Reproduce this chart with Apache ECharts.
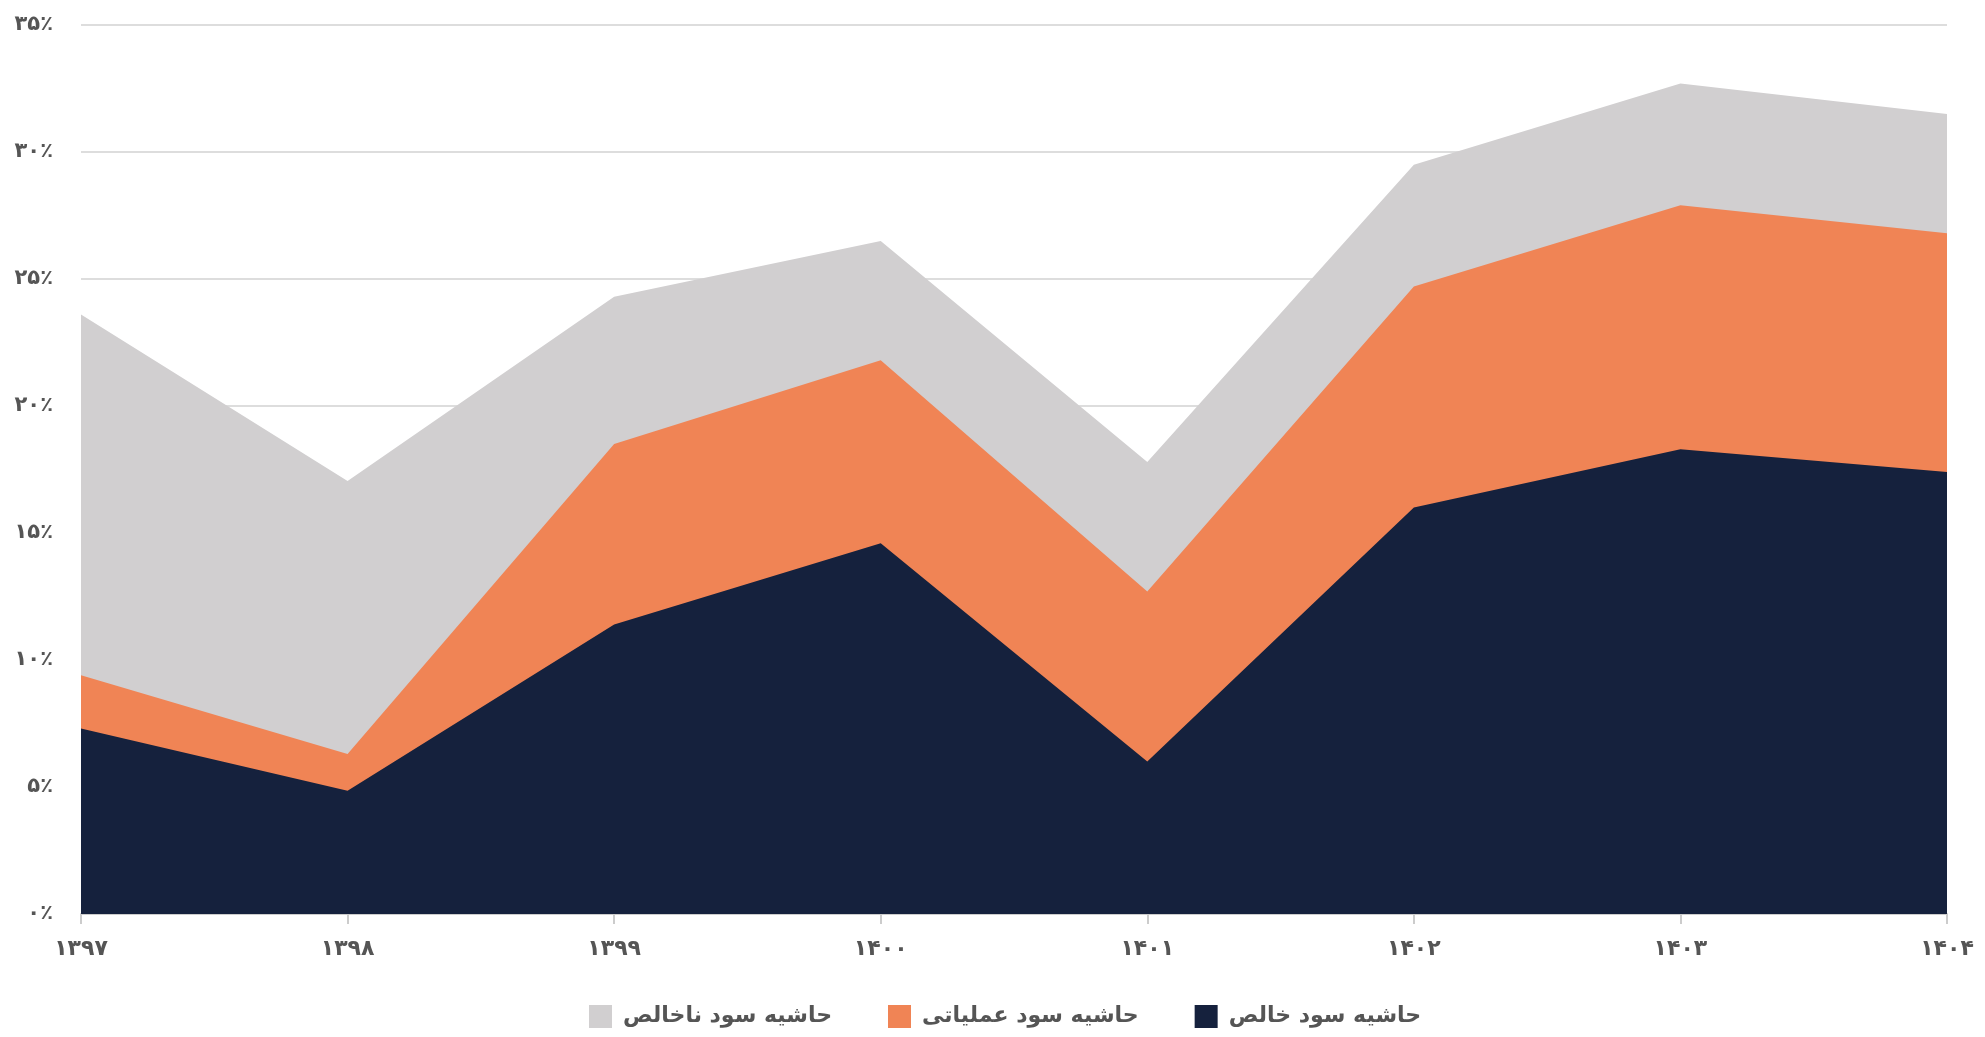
<!DOCTYPE html>
<html>
<head>
<meta charset="utf-8">
<style>
  html, body { margin: 0; padding: 0; background: #fff; }
  #chart { width: 1985px; height: 1037px; }
</style>
<script src="https://cdn.jsdelivr.net/npm/echarts@6/dist/echarts.min.js"></script>
</head>
<body>
<div id="chart"></div>
<script>
var years = ['۱۳۹۷', '۱۳۹۸', '۱۳۹۹', '۱۴۰۰', '۱۴۰۱', '۱۴۰۲', '۱۴۰۳', '۱۴۰۴'];
var grossMargin = [23.6, 17.05, 24.3, 26.5, 17.8, 29.5, 32.7, 31.5];
var operatingMargin = [9.4, 6.3, 18.5, 21.8, 12.7, 24.7, 27.9, 26.8];
var netMargin = [7.3, 4.85, 11.4, 14.6, 6.0, 16.0, 18.3, 17.4];
var seriesNames = ['حاشیه سود ناخالص', 'حاشیه سود عملیاتی', 'حاشیه سود خالص'];
var persianDigits = ['۰', '۱', '۲', '۳', '۴', '۵', '۶', '۷', '۸', '۹'];

function toPersian(n) {
  return String(n).replace(/[0-9]/g, function(d) { return persianDigits[+d]; });
}

var font = "'DejaVu Sans', sans-serif";
var navy = '#15213d';
var orange = '#f08455';
var gray = '#d1cfd0';

var chart = echarts.init(document.getElementById('chart'), null, { renderer: 'canvas' });
chart.setOption({
  animation: false,
  grid: { left: 81, right: 38, top: 25, bottom: 123 },
  legend: {
    data: seriesNames,
    bottom: 4,
    left: 584,
    itemWidth: 23,
    itemHeight: 23,
    itemGap: 56,
    icon: 'rect',
    textStyle: { color: '#555', fontSize: 22, fontWeight: 'bold', fontFamily: font, padding: [0, 0, 0, 6] }
  },
  xAxis: {
    type: 'category',
    data: years,
    boundaryGap: false,
    axisLine: { lineStyle: { color: '#cccccc', width: 2 } },
    axisTick: { show: true, length: 10, lineStyle: { color: '#cccccc', width: 2 } },
    axisLabel: { color: '#555', fontSize: 22, fontWeight: 'bold', fontFamily: font, margin: 24 }
  },
  yAxis: {
    type: 'value',
    min: 0,
    max: 35,
    interval: 5,
    axisLine: { show: false },
    axisTick: { show: false },
    splitLine: { lineStyle: { color: '#dddddd', width: 2 } },
    axisLabel: {
      color: '#555', fontSize: 21, fontWeight: 'bold', fontFamily: font, margin: 28,
      formatter: function(v) { return toPersian(v) + '٪'; }
    }
  },
  series: [
    {
      name: seriesNames[0], type: 'line', data: grossMargin,
      symbol: 'none', lineStyle: { width: 0 }, itemStyle: { color: gray },
      areaStyle: { color: gray, opacity: 1 }
    },
    {
      name: seriesNames[1], type: 'line', data: operatingMargin,
      symbol: 'none', lineStyle: { width: 0 }, itemStyle: { color: orange },
      areaStyle: { color: orange, opacity: 1 }
    },
    {
      name: seriesNames[2], type: 'line', data: netMargin,
      symbol: 'none', lineStyle: { width: 0 }, itemStyle: { color: navy },
      areaStyle: { color: navy, opacity: 1 }
    }
  ]
});
window.addEventListener('resize', function() { chart.resize(); });
</script>
</body>
</html>
